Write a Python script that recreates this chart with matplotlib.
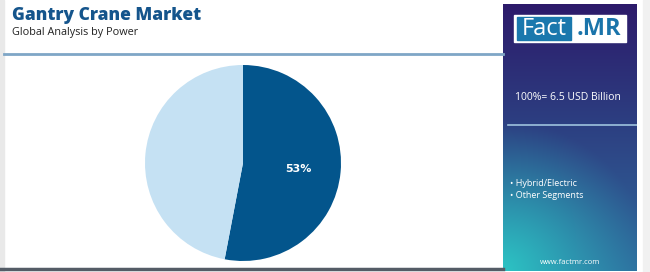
import numpy as np
import matplotlib
matplotlib.use("Agg")
import matplotlib.pyplot as plt
from matplotlib.colors import to_rgb
from matplotlib.patches import Rectangle

# Data
categories = ["Hybrid/Electric", "Other Segments"]
shares = [53, 47]
pie_colors = ["#03558c", "#c5e1f3"]
title = "Gantry Crane Market"
subtitle = "Global Analysis by Power"
total_label = "100%= 6.5 USD Billion"
website = "www.factmr.com"

W, H = 650, 272
fig = plt.figure(figsize=(W / 100, H / 100), dpi=100)
fig.patch.set_facecolor("white")

def fx(px):
    return px / W

def fy(py):
    return 1 - py / H

# background frame
fig.add_artist(Rectangle((0, 0), fx(4), 1, transform=fig.transFigure, color="#e9e9e9", zorder=0))
fig.add_artist(Rectangle((fx(643), 0), fx(7), 1, transform=fig.transFigure, color="#f1f1f1", zorder=0))

# title
fig.text(fx(12), fy(16), title, fontsize=12.5, fontweight="heavy", color="#15558c",
         family="Open Sans", va="center", ha="left")
fig.text(fx(12), fy(33), subtitle, fontsize=7.8, color="#222222",
         family="Open Sans", va="center", ha="left")

# separator lines
fig.add_artist(plt.Line2D([fx(4), fx(503)], [fy(54), fy(54)], transform=fig.transFigure,
                          color="#7fa6c6", lw=2))
fig.add_artist(plt.Line2D([fx(0), fx(503)], [fy(269), fy(269)], transform=fig.transFigure,
                          color="#545c66", lw=2.5))

# pie
cx, cy, r = 243, 163, 98
ax = fig.add_axes([fx(cx - r), fy(cy + r), fx(2 * r), (2 * r) / H])
wedges, _ = ax.pie(shares, colors=pie_colors, startangle=90, counterclock=False,
                   wedgeprops=dict(linewidth=0))
ax.set_xlim(-1, 1)
ax.set_ylim(-1, 1)
ax.set_aspect("equal")
ax.text(0.57, -0.06, f"{shares[0]}%", color="white", fontsize=8, fontweight="bold",
        ha="center", va="center")

# right panel with gradient
px0, px1, py0, py1 = 503, 637, 4, 271
pw, ph = px1 - px0, py1 - py0
pax = fig.add_axes([fx(px0), fy(py1), fx(pw), ph / H])
pax.set_xlim(0, 1)
pax.set_ylim(0, 1)
pax.axis("off")
xs = np.arange(pw) + 0.5
ys = np.arange(ph) + 0.5
XX, YY = np.meshgrid(xs, ys)  # YY from top
top = np.array(to_rgb("#2c1a6a"))
bot = np.array(to_rgb("#2e6c9e"))
teal = np.array(to_rgb("#2cc4c4"))
v = (YY / ph)[..., None]
img = top * (1 - v) + bot * v
d = np.sqrt(XX ** 2 + (ph - YY) ** 2)
a = np.clip(1 - d / 150, 0, 1)[..., None] ** 1.1
img = img * (1 - a) + teal * a
pax.imshow(img, extent=[0, 1, 0, 1], origin="upper", aspect="auto")

def pxx(px):
    return (px - px0) / pw

def pyy(py):
    return 1 - (py - py0) / ph

# logo
pax.add_patch(Rectangle((pxx(514), pyy(42)), pxx(626) - pxx(514), pyy(15) - pyy(42),
                        color="white", zorder=3))
pax.add_patch(Rectangle((pxx(517), pyy(40)), pxx(571) - pxx(517), pyy(17) - pyy(40),
                        color="#1a78ad", zorder=4))
pax.text(pxx(544), pyy(29), "Fact", color="white", fontsize=17, ha="center", va="center",
         family="Open Sans", zorder=5)
pax.text(pxx(599), pyy(29), ".MR", color="#1a74aa", fontsize=17, fontweight="bold",
         ha="center", va="center", family="Open Sans", zorder=5)

pax.text(pxx(515), pyy(97), total_label, color="white", fontsize=7.5, ha="left", va="center",
         family="Open Sans", zorder=5)
pax.plot([pxx(508), 1], [pyy(125), pyy(125)], color="#9fc2de", lw=1.2, zorder=5)

for i, c in enumerate(categories):
    pax.text(pxx(510), pyy(183 + 13 * i), "\u2022 " + c, color="white", fontsize=6.5,
             ha="left", va="center", family="Open Sans", zorder=5)

pax.text(pxx(570), pyy(262), website, color="white", fontsize=5.5, ha="center", va="center",
         family="Open Sans", zorder=5)

fig.savefig("out.png", dpi=100)
